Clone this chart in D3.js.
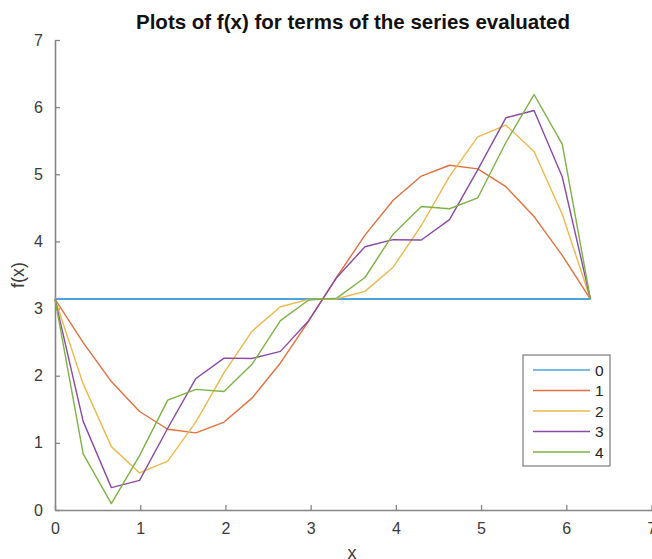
<!DOCTYPE html>
<html><head><meta charset="utf-8">
<script src="https://cdn.jsdelivr.net/npm/d3@7"></script>
<style>body{margin:0;background:#fff}svg{display:block}text{font-family:"Liberation Sans",Arial,sans-serif}</style>
</head><body><svg id="c" width="652" height="559"></svg>
<script>
const xs = [0,0.3307,0.6614,0.9921,1.3228,1.6535,1.9842,2.3149,2.6456,2.9762,3.3069,3.6376,3.9683,4.2990,4.6297,4.9604,5.2911,5.6218,5.9525,6.2832];
const series0 = [3.1416,3.1416,3.1416,3.1416,3.1416,3.1416,3.1416,3.1416,3.1416,3.1416,3.1416,3.1416,3.1416,3.1416,3.1416,3.1416,3.1416,3.1416,3.1416,3.1416];
const series1 = [3.1416,2.4922,1.9132,1.4673,1.2028,1.1484,1.3101,1.6702,2.1897,2.8124,3.4708,4.0935,4.6130,4.9731,5.1348,5.0804,4.8159,4.3700,3.7910,3.1416];
const series2 = [3.1416,1.8780,0.9438,0.5515,0.7268,1.3130,2.0458,2.6667,3.0269,3.1371,3.1461,3.2563,3.6165,4.2374,4.9702,5.5564,5.7317,5.3394,4.4052,3.1416];
const series3 = [3.1416,1.3199,0.3333,0.4418,1.2173,1.9593,2.2622,2.2573,2.3625,2.8198,3.4634,3.9207,4.0259,4.0210,4.3239,5.0659,5.8414,5.9499,4.9633,3.1416];
const series4 = [3.1416,0.8352,0.0953,0.8096,1.6359,1.7969,1.7640,2.1750,2.8204,3.1269,3.1563,3.4628,4.1082,4.5192,4.4863,4.6473,5.4736,6.1879,5.4480,3.1416];
const seriesNames = ["0","1","2","3","4"];
const colors = ["#4DA3DE","#E2703D","#EDB84C","#8B4AA2","#7DB245"];
const xTicks = [0,1,2,3,4,5,6,7];
const yTicks = [0,1,2,3,4,5,6,7];
const titleText = "Plots of f(x) for terms of the series evaluated";

const allSeries = [series0,series1,series2,series3,series4];
const svg = d3.select("#c");
const x = d3.scaleLinear().domain([0,7]).range([55,651.5]);
const y = d3.scaleLinear().domain([0,7]).range([510,40]);
const axisColor = "#858585", textColor = "#3a3a3a";

// axes
const gx = svg.append("g").attr("transform","translate(0,510)")
  .call(d3.axisBottom(x).tickValues(xTicks).tickFormat(d3.format("d")).tickSizeInner(-5).tickSizeOuter(0).tickPadding(13));
const gy = svg.append("g").attr("transform","translate(55,0)")
  .call(d3.axisLeft(y).tickValues(yTicks).tickFormat(d3.format("d")).tickSizeInner(-5).tickSizeOuter(0).tickPadding(12));
[gx,gy].forEach(g=>{
  g.select(".domain").attr("stroke",axisColor).attr("stroke-width",1.6);
  g.selectAll(".tick line").attr("stroke",axisColor).attr("stroke-width",1.3);
  g.selectAll(".tick text").attr("fill",textColor).style("font-size","16px");
});

// lines
const line = d3.line().x((d,i)=>x(xs[i])).y(d=>y(d));
allSeries.forEach((s,k)=>{
  svg.append("path").datum(s).attr("d",line).attr("fill","none")
    .attr("stroke",colors[k]).attr("stroke-width",k===0?2:1.4).attr("stroke-linejoin","round");
});

// title & labels
svg.append("text").attr("x",353).attr("y",28.5).attr("text-anchor","middle")
  .style("font-size","20.5px").style("font-weight","bold").attr("fill","#111").text(titleText);
svg.append("text").attr("x",352).attr("y",558.5).attr("text-anchor","middle")
  .style("font-size","18px").attr("fill",textColor).text("x");
svg.append("text").attr("transform","translate(24,275) rotate(-90)").attr("text-anchor","middle")
  .style("font-size","18px").attr("fill",textColor).text("f(x)");

// legend
const lg = svg.append("g");
lg.append("rect").attr("x",523).attr("y",355).attr("width",87).attr("height",111)
  .attr("fill","#fff").attr("stroke",axisColor).attr("stroke-width",1.3);
seriesNames.forEach((n,k)=>{
  const yy = 370 + k*20.5;
  lg.append("line").attr("x1",533).attr("x2",590).attr("y1",yy).attr("y2",yy)
    .attr("stroke",colors[k]).attr("stroke-width",1.5);
  lg.append("text").attr("x",595).attr("y",yy+5.5).style("font-size","15.5px").attr("fill","#222").text(n);
});
</script></body></html>
